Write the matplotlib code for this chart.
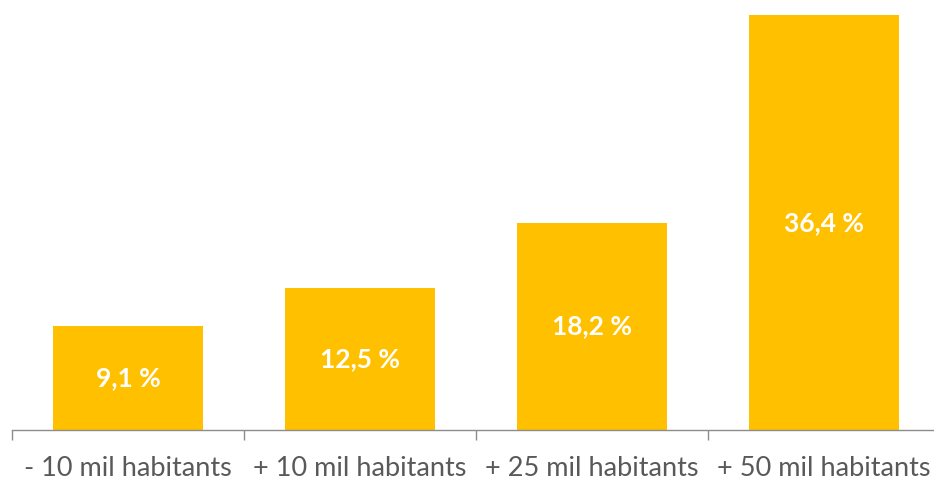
import matplotlib
matplotlib.use('Agg')
import matplotlib.pyplot as plt

categories = ['- 10 mil habitants', '+ 10 mil habitants', '+ 25 mil habitants', '+ 50 mil habitants']
values = [9.1, 12.5, 18.2, 36.4]
labels = ['9,1 %', '12,5 %', '18,2 %', '36,4 %']

BAR = '#FFC000'
AXIS = '#8C8C8C'
TEXT = '#595959'

fig = plt.figure(figsize=(9.34, 4.8), dpi=100)
ax = fig.add_axes([12 / 934, 50 / 480, 928 / 934, 430 / 480])

x = range(len(categories))
bars = ax.bar(x, values, width=0.65, color=BAR)
for b, lab in zip(bars, labels):
    ax.text(b.get_x() + b.get_width() / 2, b.get_height() / 2, lab,
            ha='center', va='center', color='white', fontsize=19,
            fontweight='bold', family='Lato')

ax.set_xlim(-0.5, 3.5)
ax.set_ylim(0, 37.75)
ax.set_xticks([i - 0.5 for i in range(len(categories) + 1)])
ax.set_xticklabels([])
ax.set_xticks(list(x), minor=True)
ax.set_xticklabels(categories, minor=True, fontsize=19.5, color=TEXT, family='Lato')
ax.tick_params(axis='x', which='major', length=7, width=1, color=AXIS, direction='out')
ax.tick_params(axis='x', which='minor', length=0, pad=19)
ax.set_yticks([])
for s in ['top', 'right', 'left']:
    ax.spines[s].set_visible(False)
ax.spines['bottom'].set_color(AXIS)
ax.spines['bottom'].set_linewidth(1)

fig.savefig('out.png', dpi=100, facecolor='white')
